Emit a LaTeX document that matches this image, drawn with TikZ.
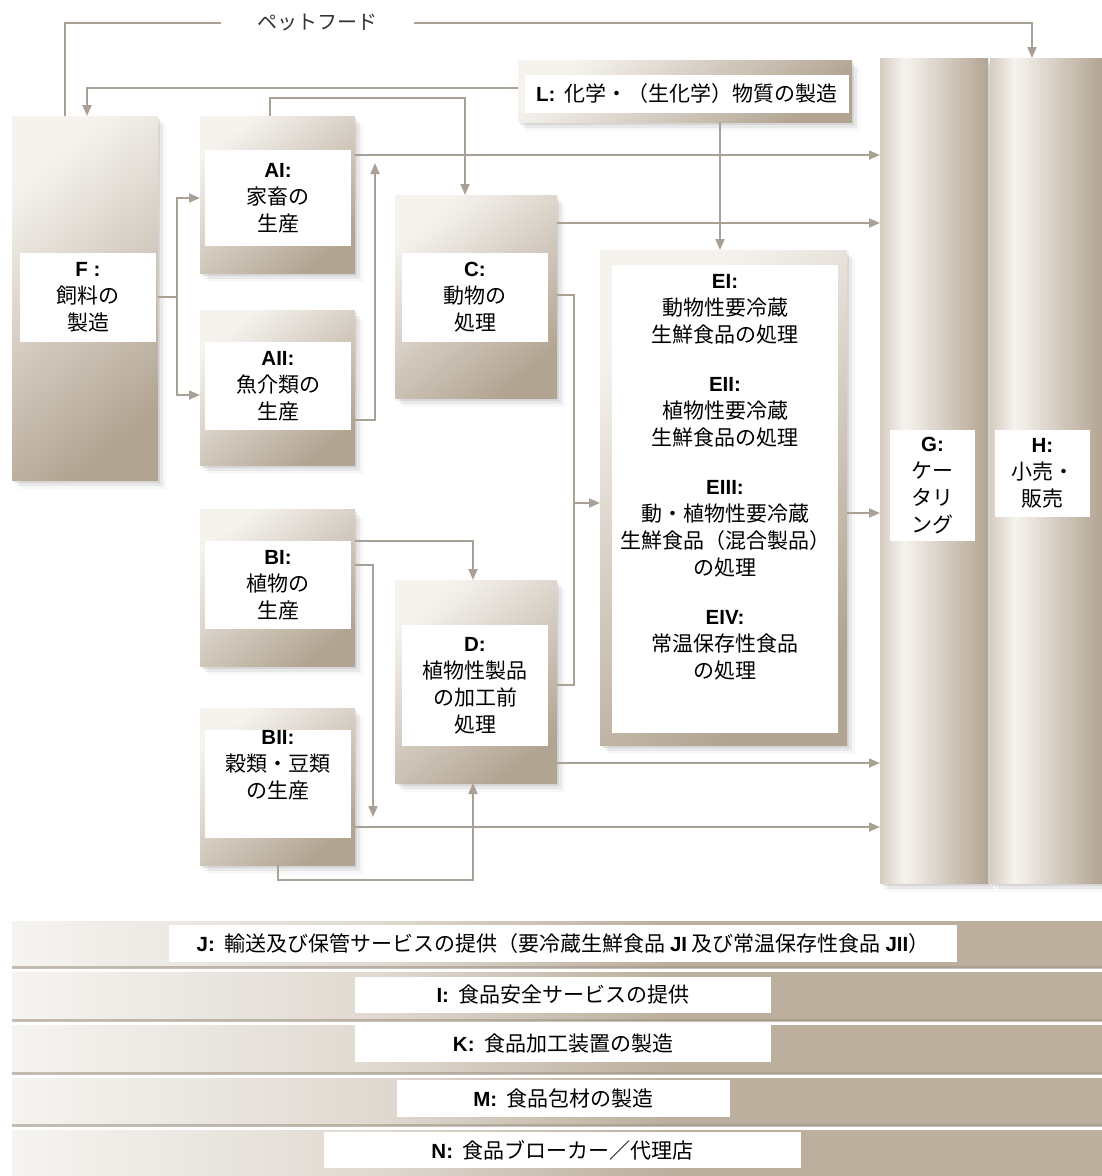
\documentclass[tikz,border=0pt]{standalone}
\usepackage{fontspec}
\setmainfont{Noto Sans CJK JP}
\newfontfamily\lat{Liberation Sans}
\usetikzlibrary{arrows.meta,shadows}
\definecolor{boxlight}{RGB}{246,243,239}
\definecolor{boxdark}{RGB}{178,164,146}
\definecolor{colleft}{RGB}{214,204,192}
\definecolor{bandL}{RGB}{246,244,241}
\definecolor{bandD}{RGB}{188,175,158}
\definecolor{conncol}{RGB}{170,161,150}
\pgfdeclarehorizontalshading{colshade}{100bp}{color(0bp)=(colleft); color(25bp)=(colleft); color(36bp)=(boxlight); color(75bp)=(boxdark); color(100bp)=(boxdark)}
\pgfdeclarehorizontalshading{bandshade}{100bp}{color(0bp)=(bandL); color(25bp)=(bandL); color(42bp)=(bandL!60!bandD); color(55bp)=(bandD); color(100bp)=(bandD)}
\newcommand\lab[1]{{\lat\bfseries\fontsize{20.5}{27}\selectfont #1}}
\tikzset{
  softshadow/.style={
    drop shadow={shadow xshift=2pt, shadow yshift=-3pt, opacity=.10, fill=black!80},
    drop shadow={shadow xshift=5pt, shadow yshift=-6pt, opacity=.07, fill=black!80},
    drop shadow={shadow xshift=8pt, shadow yshift=-9pt, opacity=.04, fill=black!80}},
  gbox/.style={draw=none, inner sep=0pt, outer sep=0pt, anchor=north west,
    top color=boxlight, bottom color=boxdark, shading angle=40, softshadow},
  cbox/.style={draw=none, inner sep=0pt, outer sep=0pt, anchor=north west,
    shading=colshade, softshadow},
  bandbox/.style={draw=none, inner sep=0pt, outer sep=0pt, anchor=north west,
    shading=bandshade},
  wbox/.style={fill=white, inner sep=0pt, outer sep=0pt, anchor=north west,
    align=center, text=black, font=\fontsize{21}{27}\selectfont},
  txt/.style={inner sep=0pt, align=center, text=black, font=\fontsize{21}{27}\selectfont},
  conn/.style={draw=conncol, line width=1.8pt},
  arr/.style={conn, -{Triangle[length=11pt, width=9pt]}},
  edgeline/.style={draw=bandD!85!black, line width=3pt, opacity=.6}
}
\begin{document}
\begin{tikzpicture}[x=1pt,y=-1pt]
\useasboundingbox (0,0) rectangle (1102,1176);
\fill[white] (0,0) rectangle (1102,1176);

% columns
\node[cbox, minimum width=108, minimum height=825] (Gb) at (880,58) {};
\node[cbox, minimum width=112, minimum height=825] (Hb) at (990,58) {};

% boxes
\node[gbox, minimum width=146, minimum height=364] (Fb) at (12,116) {};
\node[gbox, minimum width=155, minimum height=157] (AIb) at (200,116) {};
\node[gbox, minimum width=155, minimum height=155] (AIIb) at (200,310) {};
\node[gbox, minimum width=162, minimum height=203] (Cb) at (395,195) {};
\node[gbox, minimum width=155, minimum height=157] (BIb) at (200,509) {};
\node[gbox, minimum width=155, minimum height=157] (BIIb) at (200,708) {};
\node[gbox, minimum width=162, minimum height=203] (Db) at (395,580) {};
\node[gbox, minimum width=247, minimum height=495] (Eb) at (600,250) {};
\node[gbox, minimum width=334, minimum height=62] (Lb) at (518,60) {};

% bands
\node[bandbox, minimum width=1090, minimum height=46] (Jb) at (12,921) {};
\node[bandbox, minimum width=1090, minimum height=48] (Ib) at (12,972) {};
\node[bandbox, minimum width=1090, minimum height=48] (Kb) at (12,1025) {};
\node[bandbox, minimum width=1090, minimum height=47] (Mb) at (12,1078) {};
\node[bandbox, minimum width=1090, minimum height=46] (Nb) at (12,1130) {};
\draw[edgeline] (Jb.south west) -- (Jb.south east);
\draw[edgeline] (Ib.south west) -- (Ib.south east);
\draw[edgeline] (Kb.south west) -- (Kb.south east);
\draw[edgeline] (Mb.south west) -- (Mb.south east);

% connectors
\coordinate (fj) at (177,297);
\coordinate (j1) at (375,163);
\coordinate (j2) at (373,817);
\coordinate (ej) at (574,503);
\draw[arr] (Fb.north -| 65,0) -- (65,23) -- (1032,23) -- (Hb.north -| 1032,0);
\draw[arr] (Lb.west |- 0,88) -- (87,88) -- (Fb.north -| 87,0);
\draw[arr] (Lb.south -| 720,0) -- (Eb.north -| 720,0);
\draw[arr] (AIb.north -| 270,0) -- (270,98) -- (465,98) -- (Cb.north -| 465,0);
\draw[conn] (Fb.east |- fj) -- (fj);
\draw[arr] (fj) |- (AIb.west |- 0,198);
\draw[arr] (fj) |- (AIIb.west |- 0,395);
\draw[arr] (AIIb.east |- 0,420) -| (j1);
\draw[arr] (AIb.east |- 0,155) -- (Gb.west |- 0,155);
\draw[arr] (Cb.east |- 0,223) -- (Gb.west |- 0,223);
\draw[conn] (Cb.east |- 0,295) -| (ej);
\draw[conn] (Db.east |- 0,685) -| (ej);
\draw[arr] (ej) -- (Eb.west |- ej);
\draw[arr] (BIb.east |- 0,541) -| (Db.north -| 473,0);
\draw[arr] (BIb.east |- 0,565) -| (j2);
\draw[arr] (BIIb.east |- 0,827) -- (Gb.west |- 0,827);
\draw[arr] (BIIb.south -| 278,0) -- (278,880) -| (Db.south -| 473,0);
\draw[arr] (Db.east |- 0,763) -- (Gb.west |- 0,763);
\draw[arr] (Eb.east |- 0,513) -- (Gb.west |- 0,513);

\node[fill=white, inner sep=0pt, minimum width=193, minimum height=26, text=black!80, font=\fontsize{20}{22}\selectfont] (pet) at (317,23) {ペットフード};

% white labels
\node[wbox, minimum width=136, minimum height=89] (Fw) at (20,253) {\lab{F :}\\飼料の\\製造};
\node[wbox, minimum width=146, minimum height=96] (AIw) at (205,150) {\lab{AI:}\\家畜の\\生産};
\node[wbox, minimum width=146, minimum height=88] (AIIw) at (205,342) {\lab{AII:}\\魚介類の\\生産};
\node[wbox, minimum width=146, minimum height=89] (Cw) at (402,253) {\lab{C:}\\動物の\\処理};
\node[wbox, minimum width=146, minimum height=88] (BIw) at (205,541) {\lab{BI:}\\植物の\\生産};
\node[wbox, minimum width=146, minimum height=108] (BIIw) at (205,730) {\lab{BII:}\\穀類・豆類\\の生産\\[12pt]};
\node[wbox, minimum width=146, minimum height=121] (Dw) at (402,625) {\lab{D:}\\植物性製品\\の加工前\\処理};
\node[wbox, minimum width=226, minimum height=468] (Ew) at (612,265) {};
\node[txt] (Et) at ([yshift=22pt]Ew.center) {\lab{EI:}\\動物性要冷蔵\\生鮮食品の処理\\[22pt]\lab{EII:}\\植物性要冷蔵\\生鮮食品の処理\\[22pt]\lab{EIII:}\\動・植物性要冷蔵\\生鮮食品（混合製品）\\の処理\\[22pt]\lab{EIV:}\\常温保存性食品\\の処理};
\node[wbox, minimum width=324, minimum height=38] (Lw) at (525,75) {\lab{L:}\ \ 化学・（生化学）物質の製造};
\node[wbox, minimum width=85, minimum height=111] (Gw) at (890,430) {\lab{G:}\\ケー\\タリ\\ング};
\node[wbox, minimum width=95, minimum height=87] (Hw) at (995,430) {\lab{H:}\\小売・\\販売};

\node[wbox, minimum width=788, minimum height=37] (Jw) at (169,925) {\lab{J:}\ \ 輸送及び保管サービスの提供（要冷蔵生鮮食品 \lab{JI} 及び常温保存性食品 \lab{JII}）};
\node[wbox, minimum width=416, minimum height=36] (Iw) at (355,977) {\lab{I:}\ \ 食品安全サービスの提供};
\node[wbox, minimum width=416, minimum height=37] (Kw) at (355,1025) {\lab{K:}\ \ 食品加工装置の製造};
\node[wbox, minimum width=333, minimum height=37] (Mw) at (397,1080) {\lab{M:}\ \ 食品包材の製造};
\node[wbox, minimum width=477, minimum height=36] (Nw) at (324,1132) {\lab{N:}\ \ 食品ブローカー／代理店};
\end{tikzpicture}
\end{document}
